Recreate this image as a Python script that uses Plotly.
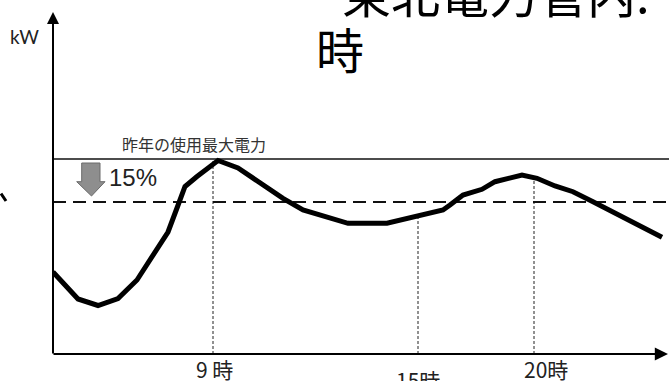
import plotly.graph_objects as go

# ---- data (x = time position, y = kW, arbitrary units) ----
demand_x = [0, 25, 45, 65, 84, 99, 115, 124, 132, 144, 165, 185, 210, 230, 250, 274,
            295, 334, 364, 390, 397, 410, 429, 442, 469, 484, 502, 520, 540, 609]
demand_y = [82, 55, 48.5, 55.5, 74, 97, 122, 146, 167.5, 177.5, 193.5, 186, 169, 155.7,
            144, 137.3, 130.7, 130.7, 137.3, 144, 149, 159, 164.7, 172.3, 179, 175.7,
            168, 162.3, 152.3, 116.7]

last_year_max = 195      # 昨年の使用最大電力
target_level = 152       # 15% reduction line

tick_x = [160, 365, 481]              # positions of 9時, 15時, 20時
tick_labels = ["9 時", "15時", "20時"]
tick_top = [193, 137.5, 177]           # where the dotted guides meet the curve

X_MAX = 616
Y_MAX = 342

CJK = "Noto Sans CJK JP"

fig = go.Figure()

# dotted guides
for tx, tt in zip(tick_x, tick_top):
    fig.add_trace(go.Scatter(x=[tx, tx], y=[0, tt], mode="lines",
                             line=dict(color="#222", width=1, dash="3px,2px"),
                             hoverinfo="skip", showlegend=False))

# last year's max line
fig.add_trace(go.Scatter(x=[0, X_MAX], y=[last_year_max, last_year_max], mode="lines",
                         line=dict(color="#111", width=1.6), hoverinfo="skip",
                         showlegend=False))
# target dashed line
fig.add_trace(go.Scatter(x=[0, X_MAX], y=[target_level, target_level], mode="lines",
                         line=dict(color="#111", width=2, dash="13px,7px"),
                         hoverinfo="skip", showlegend=False))

# demand curve
fig.add_trace(go.Scatter(x=demand_x, y=demand_y, mode="lines",
                         line=dict(color="#000", width=5, shape="linear"),
                         hoverinfo="skip", showlegend=False))

# gray down arrow
fig.add_shape(type="path",
              path="M 28.7 191 L 47 191 L 47 172.3 L 52 172.3 L 38.5 158 L 23.7 172.3 L 28.7 172.3 Z",
              xref="x", yref="y", fillcolor="#8e8e8e", line=dict(color="#6a6a6a", width=1))


def px(v):
    return v / X_MAX


def py(v):
    return v / Y_MAX


annotations = [
    # y axis arrow
    dict(x=0, y=Y_MAX, ax=0, ay=-1, xref="x", yref="y", axref="x", ayref="y",
         text="", showarrow=True, arrowhead=2, arrowsize=1.2, arrowwidth=2, arrowcolor="#000"),
    # x axis arrow
    dict(x=X_MAX - 1, y=0, ax=-1, ay=0, xref="x", yref="y", axref="x", ayref="y",
         text="", showarrow=True, arrowhead=2, arrowsize=1.2, arrowwidth=2.2, arrowcolor="#000"),
    # left fragment stroke
    dict(x=px(-47), y=py(153), ax=-6, ay=-9, xref="paper", yref="paper",
         text="", showarrow=True, arrowhead=0, arrowwidth=3, arrowcolor="#000"),
    dict(x=px(-29), y=py(317.5), xref="paper", yref="paper", text="kW", showarrow=False,
         xanchor="center", yanchor="middle",
         font=dict(family="Lato", size=19, color="#222")),
    dict(x=141, y=210.5, xref="x", yref="y", text="昨年の使用最大電力", showarrow=False,
         xanchor="center", yanchor="middle",
         font=dict(family=CJK, size=16, color="#333")),
    dict(x=80, y=176.5, xref="x", yref="y", text="15%", showarrow=False,
         xanchor="center", yanchor="middle",
         font=dict(family="Liberation Sans", size=24, color="#222")),
    # title (partially off the top of the page)
    dict(x=px(287), y=py(363), xref="paper", yref="paper", text="東北電力管内:",
         showarrow=False, xanchor="left", yanchor="middle",
         font=dict(family=CJK, size=49, color="#000")),
    dict(x=px(261), y=py(306), xref="paper", yref="paper", text="時", showarrow=False,
         xanchor="left", yanchor="middle",
         font=dict(family=CJK, size=48, color="#000")),
]

label_dx = [1, 0, 12]
label_y = [-15, -26, -15]
for tx, lab, dx, ly in zip(tick_x, tick_labels, label_dx, label_y):
    annotations.append(dict(x=px(tx + dx), y=py(ly), xref="paper", yref="paper", text=lab,
                            showarrow=False, xanchor="center", yanchor="middle",
                            font=dict(family=CJK, size=21, color="#222")))

fig.update_layout(
    width=669, height=381,
    margin=dict(l=53, r=0, t=12, b=27),
    paper_bgcolor="white", plot_bgcolor="white",
    xaxis=dict(range=[0, X_MAX], visible=False, fixedrange=True),
    yaxis=dict(range=[0, Y_MAX], visible=False, fixedrange=True),
    annotations=annotations,
    showlegend=False,
)

fig.write_html("out.html")
